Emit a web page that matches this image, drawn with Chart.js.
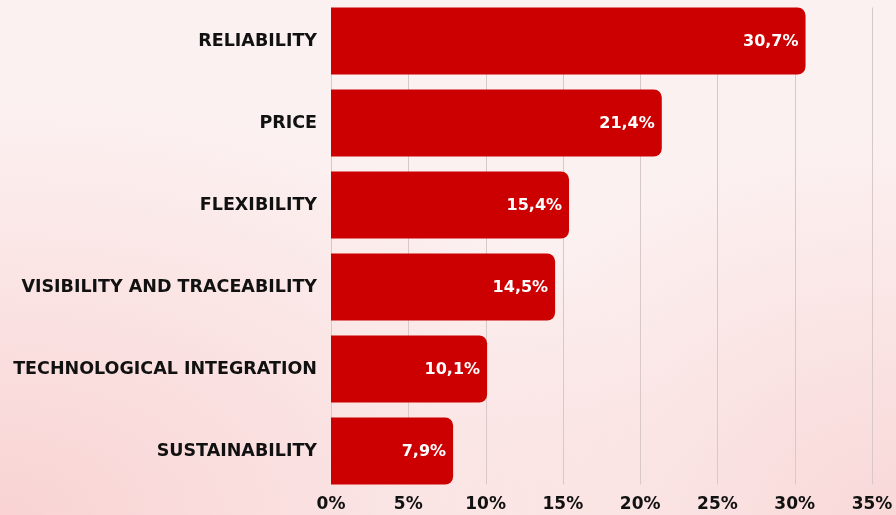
<!DOCTYPE html>
<html>
<head>
<meta charset="utf-8">
<script src="https://cdn.jsdelivr.net/npm/chart.js@4"></script>
<style>
    html, body { margin: 0; padding: 0; }
    body {
        width: 896px;
        height: 515px;
        overflow: hidden;
        background:
            radial-gradient(ellipse 700px 420px at 0% 100%, #f9d3d3 0%, rgba(249, 211, 211, 0) 100%),
            radial-gradient(ellipse 500px 380px at 100% 100%, #f9d8d8 0%, rgba(249, 216, 216, 0) 100%),
            #fcf1f1;
    }
    #wrap { position: relative; width: 896px; height: 515px; }
</style>
</head>
<body>
<div id="wrap"><canvas id="chart"></canvas></div>
<script>
const categories = [
    'RELIABILITY',
    'PRICE',
    'FLEXIBILITY',
    'VISIBILITY AND TRACEABILITY',
    'TECHNOLOGICAL INTEGRATION',
    'SUSTAINABILITY'
];
const shares = [30.7, 21.4, 15.4, 14.5, 10.1, 7.9];
const tickValues = [0, 5, 10, 15, 20, 25, 30, 35];

const FONT = '"DejaVu Sans", sans-serif';

const fmt = (v) => v.toFixed(1).replace('.', ',') + '%';

// grid lines only between the top of the first bar and the bottom of the last one
const gridPlugin = {
    id: 'barGrid',
    beforeDatasetsDraw(chart) {
        const ctx = chart.ctx;
        const bars = chart.getDatasetMeta(0).data;
        const top = bars[0].y - bars[0].height / 2;
        const bottom = bars[bars.length - 1].y + bars[bars.length - 1].height / 2;
        const xs = chart.scales.x;
        ctx.save();
        ctx.strokeStyle = '#d9c8c8';
        ctx.lineWidth = 1;
        tickValues.forEach(t => {
            const x = Math.round(xs.getPixelForValue(t)) + 0.5;
            ctx.beginPath();
            ctx.moveTo(x, top);
            ctx.lineTo(x, bottom);
            ctx.stroke();
        });
        ctx.restore();
    }
};

// white value labels at the end of each bar
const valuePlugin = {
    id: 'barValues',
    afterDatasetsDraw(chart) {
        const ctx = chart.ctx;
        const data = chart.data.datasets[0].data;
        ctx.save();
        ctx.fillStyle = '#ffffff';
        ctx.font = `bold 16px ${FONT}`;
        ctx.textAlign = 'right';
        ctx.textBaseline = 'middle';
        chart.getDatasetMeta(0).data.forEach((bar, i) => {
            ctx.fillText(fmt(data[i]), bar.x - 7, bar.y + 1);
        });
        ctx.restore();
    }
};

new Chart(document.getElementById('chart'), {
    type: 'bar',
    data: {
        labels: categories,
        datasets: [{
            data: shares,
            backgroundColor: '#cc0000',
            borderRadius: 8,
            borderSkipped: 'start',
            barPercentage: 0.817,
            categoryPercentage: 1
        }]
    },
    options: {
        indexAxis: 'y',
        responsive: true,
        maintainAspectRatio: false,
        animation: false,
        layout: { padding: 0 },
        plugins: {
            legend: { display: false },
            tooltip: { enabled: false }
        },
        scales: {
            x: {
                min: 0,
                max: 35,
                border: { display: false },
                grid: { display: false, drawTicks: false, tickLength: 0 },
                afterBuildTicks: (axis) => { axis.ticks = tickValues.map(v => ({ value: v })); },
                afterFit: (axis) => {
                    axis.height = 23;
                    axis.paddingLeft = 0;
                    axis.paddingRight = 24;
                },
                ticks: {
                    color: '#111111',
                    padding: 2,
                    maxRotation: 0,
                    font: { family: FONT, size: 17, weight: 'bold' },
                    callback: (v) => v + '%'
                }
            },
            y: {
                border: { display: false },
                grid: { display: false, drawTicks: false, tickLength: 0 },
                afterFit: (axis) => {
                    axis.width = 331;
                    axis.paddingTop = 0;
                    axis.paddingBottom = 0;
                },
                ticks: {
                    color: '#111111',
                    padding: 14,
                    font: { family: FONT, size: 17.5, weight: 'bold' }
                }
            }
        }
    },
    plugins: [gridPlugin, valuePlugin]
});
</script>
</body>
</html>
